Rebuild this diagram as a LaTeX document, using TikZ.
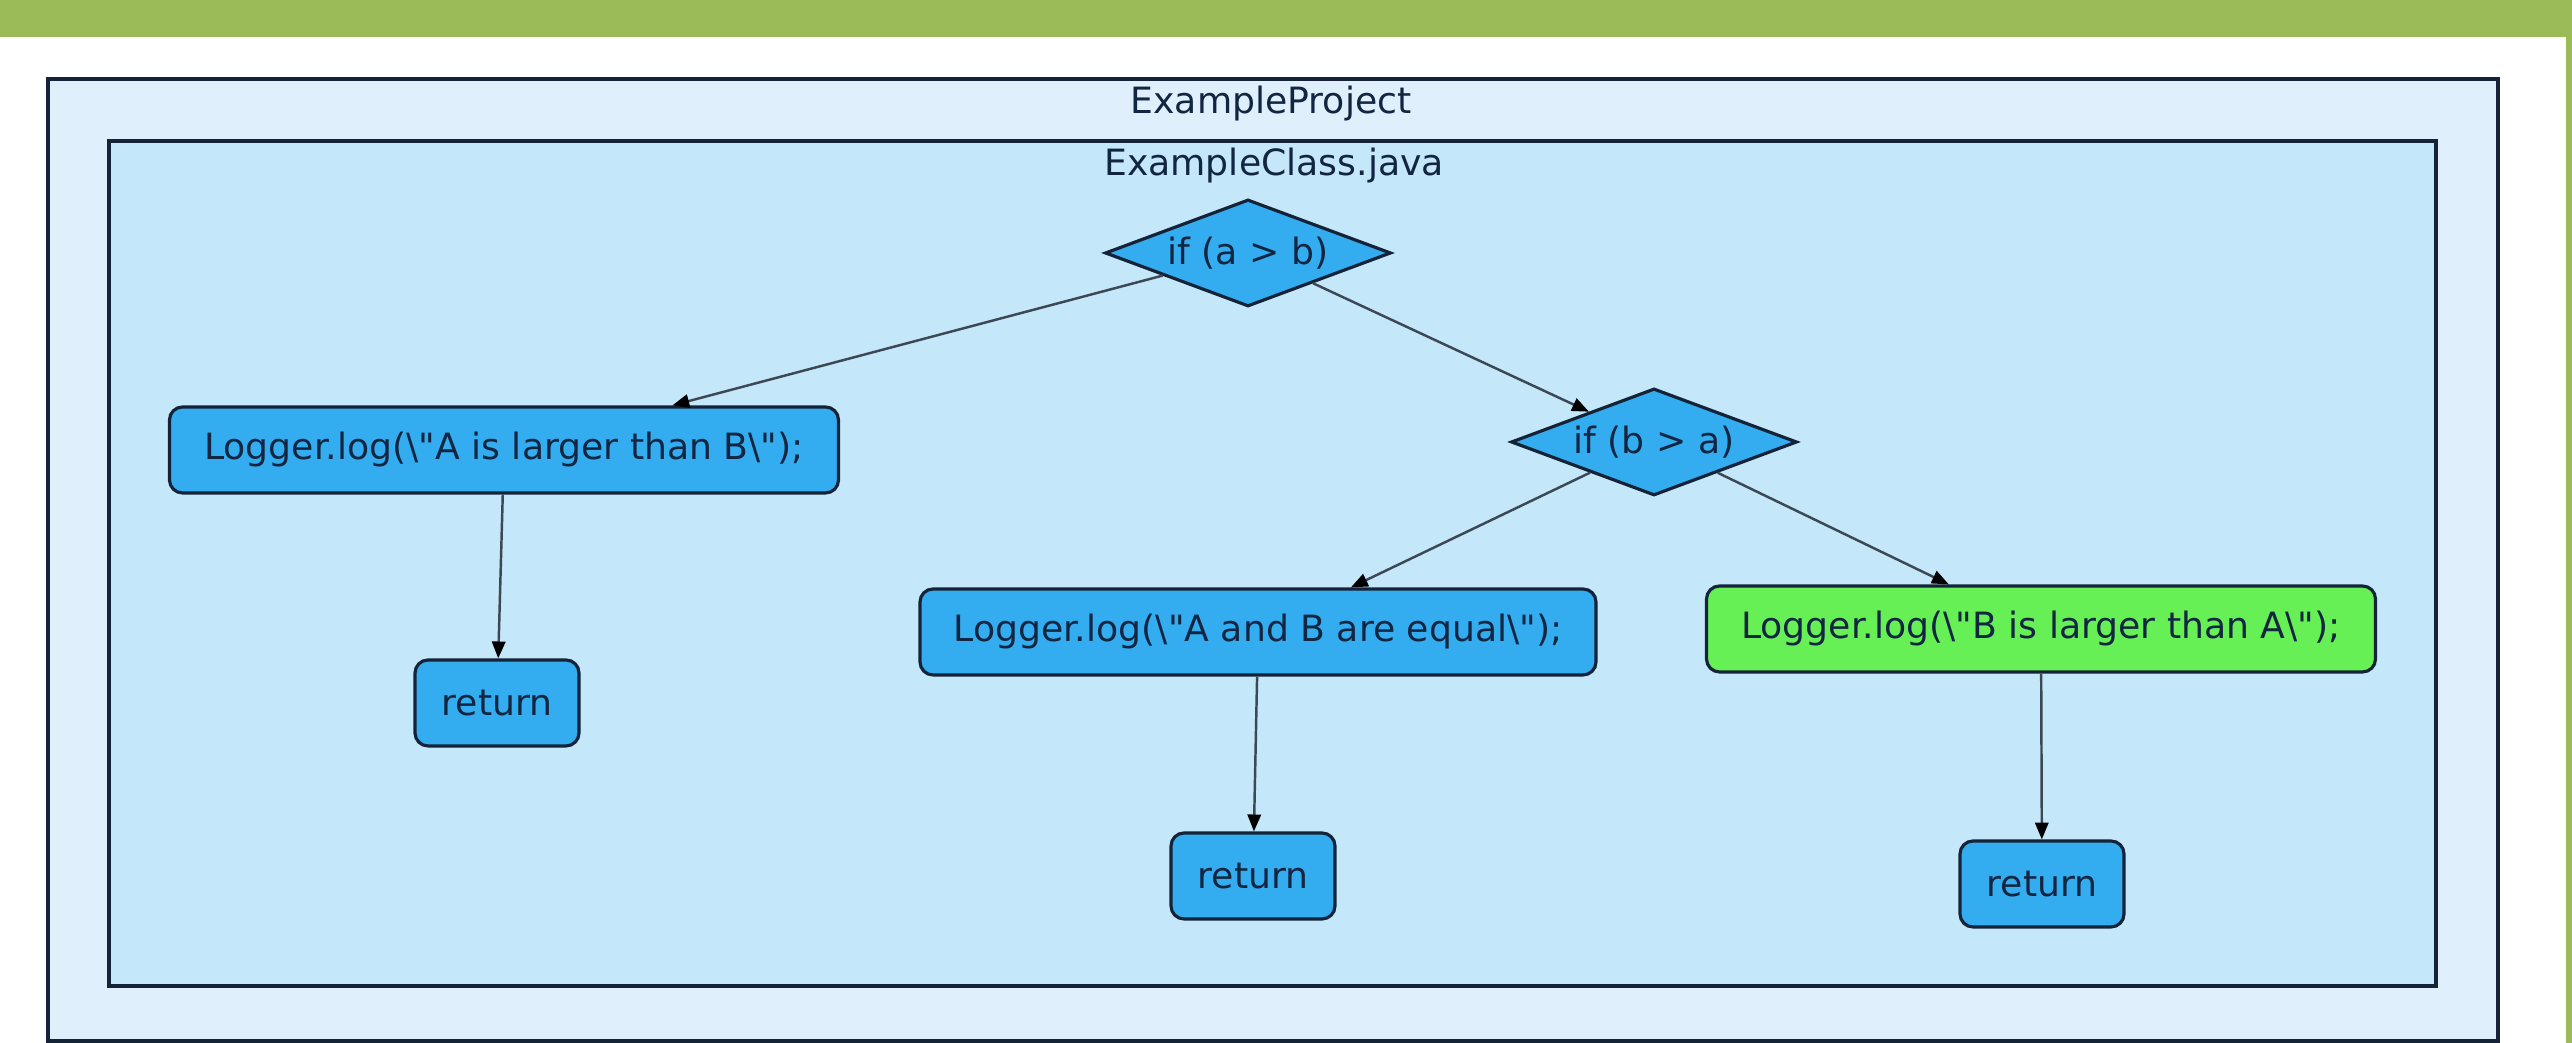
\documentclass[tikz,border=0pt]{standalone}
\usepackage{fontspec}
\setmainfont{DejaVu Sans}
\usepackage{xcolor}
\usepackage{tikz}
\usetikzlibrary{shapes.geometric, arrows.meta, positioning}
\definecolor{bargreen}{RGB}{155, 187, 89}
\definecolor{projectblue}{RGB}{223, 240, 252}
\definecolor{classblue}{RGB}{197, 231, 250}
\definecolor{stmtblue}{RGB}{52, 172, 240}
\definecolor{stmtgreen}{RGB}{102, 240, 85}
\definecolor{nodeline}{RGB}{20, 35, 55}
\definecolor{edgegray}{RGB}{60, 72, 85}
\definecolor{textnavy}{RGB}{18, 38, 65}

\begin{document}
\begin{tikzpicture}[
    font=\fontsize{10.3}{12}\selectfont,
    stmt/.style={draw=nodeline, line width=0.9pt, fill=stmtblue, rounded corners=3.7pt,
      text=textnavy, minimum height=0.86cm, inner sep=0pt},
    cond/.style={diamond, draw=nodeline, line width=0.9pt, fill=stmtblue, text=textnavy,
      aspect=2.7, inner sep=0pt, minimum width=2.86cm, minimum height=1.07cm},
    flow/.style={draw=edgegray, line width=0.7pt,
      -{Triangle[length=4.8pt, width=3.8pt, color=black]}}
  ]
    \useasboundingbox (0,0) rectangle (25.72,10.43);
    % page frame
    \fill[bargreen] (0,10.06) rectangle (25.72,10.43);
    \fill[bargreen] (25.66,0) rectangle (25.72,10.43);
    % clusters
    \draw[nodeline, line width=1.2pt, fill=projectblue] (0.48,0.02) rectangle (24.98,9.64);
    \draw[nodeline, line width=1.2pt, fill=classblue] (1.09,0.57) rectangle (24.36,9.02);
    \node[text=textnavy] (projtitle) at (12.71,9.39) {ExampleProject};
    \node[text=textnavy] (classtitle) at (12.74,8.77) {ExampleClass.java};
    % conditions
    \node[cond] (ifab) at (12.48,7.90) {if (a > b)};
    \node[cond] (ifba) at (16.54,6.01) {if (b > a)};
    % statements
    \node[stmt, minimum width=6.69cm] (logab) at (5.04,5.93)
      {Logger.log(\textbackslash\textquotedbl A is larger than B\textbackslash\textquotedbl);};
    \node[stmt, minimum width=6.76cm] (logeq) at (12.58,4.11)
      {Logger.log(\textbackslash\textquotedbl A and B are equal\textbackslash\textquotedbl);};
    \node[stmt, fill=stmtgreen, minimum width=6.69cm] (logba) at (20.41,4.14)
      {Logger.log(\textbackslash\textquotedbl B is larger than A\textbackslash\textquotedbl);};
    \node[stmt, minimum width=1.64cm] (retab) at (4.97,3.40) {return};
    \node[stmt, minimum width=1.64cm] (reteq) at (12.53,1.67) {return};
    \node[stmt, minimum width=1.64cm] (retba) at (20.42,1.59) {return};
    % edges
    \draw[flow] (ifab) -- (logab);
    \draw[flow] (ifab) -- (ifba);
    \draw[flow] (ifba) -- (logeq);
    \draw[flow] (ifba) -- (logba);
    \draw[flow] (logab) -- (retab);
    \draw[flow] (logeq) -- (reteq);
    \draw[flow] (logba) -- (retba);
\end{tikzpicture}
\end{document}
